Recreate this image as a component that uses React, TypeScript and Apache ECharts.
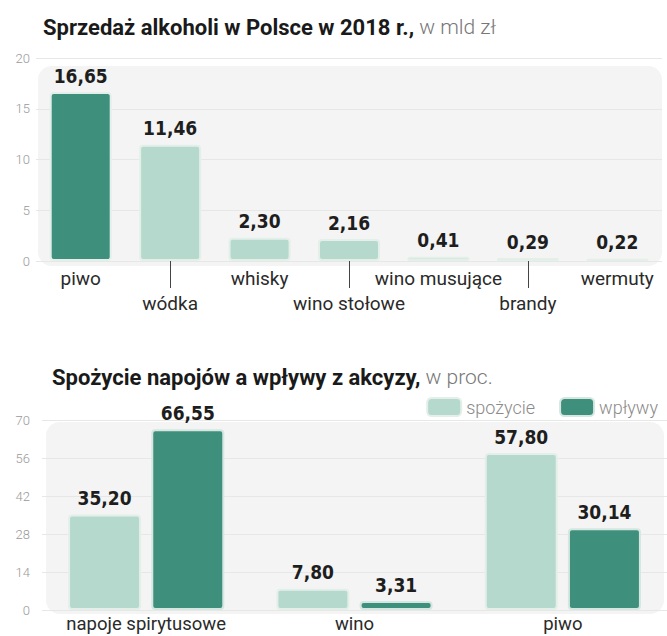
import React, { useEffect, useRef } from "react";
import * as echarts from "echarts";

const salesCategories = ["piwo", "wódka", "whisky", "wino stołowe", "wino musujące", "brandy", "wermuty"];
const salesValues = [16.65, 11.46, 2.3, 2.16, 0.41, 0.29, 0.22];

const groupCategories = ["napoje spirytusowe", "wino", "piwo"];
const consumptionValues = [35.2, 7.8, 57.8];
const exciseValues = [66.55, 3.31, 30.14];

const DARK = "#3e907d";
const LIGHT = "#b5d9cd";
const COND = "'DejaVu Sans Condensed', 'Liberation Sans Narrow', Roboto, sans-serif";

const fmt = (v: number) => v.toFixed(2).replace(".", ",");

export default function App() {
  const ref = useRef<HTMLDivElement>(null);
  useEffect(() => {
    const chart = echarts.init(ref.current!, null, { renderer: "svg" });
    const valueLabel = {
      show: true,
      position: "top" as const,
      distance: 7,
      fontFamily: COND,
      fontWeight: "bold" as const,
      fontSize: 19,
      color: "#1e1e1e",
      formatter: (p: any) => fmt(p.value),
    };
    const titleRich = {
      b: { fontFamily: "Roboto", fontWeight: "bold", fontSize: 22, color: "#1a1a1a" },
      l: { fontFamily: "Roboto", fontWeight: 300, fontSize: 21, color: "#777" },
    };
    const yLabel = { align: "right" as const, fontFamily: "Roboto", fontWeight: 300, fontSize: 13, color: "#999" };
    chart.setOption({
      animation: false,
      backgroundColor: "#ffffff",
      title: [
        {
          left: 38,
          top: 11,
          text: "{b|Sprzedaż alkoholi w Polsce w 2018 r.,}{l| w mld zł}",
          textStyle: { rich: titleRich },
        },
        {
          left: 47,
          top: 361,
          text: "{b|Spożycie napojów a wpływy z akcyzy,}{l| w proc.}",
          textStyle: { rich: titleRich },
        },
      ],
      legend: {
        right: 4,
        top: 392,
        itemWidth: 34,
        itemHeight: 18,
        itemGap: 24,
        icon: "roundRect",
        data: ["spożycie", "wpływy"],
        textStyle: { fontFamily: "Roboto", fontWeight: 300, fontSize: 18, color: "#8a8a8a" },
      },
      graphic: [
        { type: "rect", z: -10, shape: { x: 38, y: 66, width: 624, height: 200, r: 14 }, style: { fill: "#f3f4f3" } },
        { type: "rect", z: -10, shape: { x: 46, y: 422, width: 618, height: 192, r: 14 }, style: { fill: "#f3f4f3" } },
      ],
      grid: [
        { left: 36, right: 5, top: 58, height: 203 },
        { left: 42, right: 0, top: 420, height: 190 },
      ],
      xAxis: [
        {
          type: "category",
          gridIndex: 0,
          data: salesCategories,
          axisLine: { show: false },
          axisTick: {
            show: true,
            alignWithLabel: true,
            interval: (i: number) => i % 2 === 1,
            length: 27,
            lineStyle: { color: "#444", width: 1 },
          },
          axisLabel: {
            interval: 0,
            margin: 5,
            fontFamily: "Roboto",
            fontSize: 19,
            color: "#2a2a2a",
            lineHeight: 25,
            verticalAlign: "top",
            formatter: (v: string, i: number) => (i % 2 === 1 ? "\n" + v : v),
          },
        },
        {
          type: "category",
          gridIndex: 1,
          data: groupCategories,
          axisLine: { show: false },
          axisTick: { show: false },
          axisLabel: {
            interval: 0,
            margin: 4,
            fontFamily: "Roboto",
            fontSize: 18.5,
            lineHeight: 20,
            color: "#2a2a2a",
          },
        },
      ],
      yAxis: [
        {
          type: "value",
          gridIndex: 0,
          min: 0,
          max: 20,
          interval: 5,
          axisLine: { show: false },
          axisTick: { show: false },
          splitLine: { lineStyle: { color: "#e6e8e6" } },
          axisLabel: { ...yLabel, margin: 6 },
        },
        {
          type: "value",
          gridIndex: 1,
          min: 0,
          max: 70,
          interval: 14,
          axisLine: { show: false },
          axisTick: { show: false },
          splitLine: { lineStyle: { color: "#e6e8e6" } },
          axisLabel: { ...yLabel, margin: 12 },
        },
      ],
      series: [
        {
          type: "bar",
          xAxisIndex: 0,
          yAxisIndex: 0,
          barWidth: 62,
          data: salesValues.map((v, i) => ({
            value: v,
            itemStyle: { color: i === 0 ? DARK : LIGHT },
          })),
          itemStyle: { borderColor: "#e4efea", borderWidth: 2, borderRadius: 3 },
          label: valueLabel,
        },
        {
          name: "spożycie",
          type: "bar",
          xAxisIndex: 1,
          yAxisIndex: 1,
          barWidth: 73,
          barGap: "14%",
          data: consumptionValues,
          itemStyle: { color: LIGHT, borderColor: "#e4efea", borderWidth: 2, borderRadius: 3 },
          label: valueLabel,
        },
        {
          name: "wpływy",
          type: "bar",
          xAxisIndex: 1,
          yAxisIndex: 1,
          barWidth: 73,
          barGap: "14%",
          data: exciseValues,
          itemStyle: { color: DARK, borderColor: "#d6e6e0", borderWidth: 2, borderRadius: 3 },
          label: valueLabel,
        },
      ],
    });
    return () => chart.dispose();
  }, []);
  return (
    <div
      ref={ref}
      style={{ position: "fixed", left: 0, top: 0, width: 667, height: 636 }}
    />
  );
}
